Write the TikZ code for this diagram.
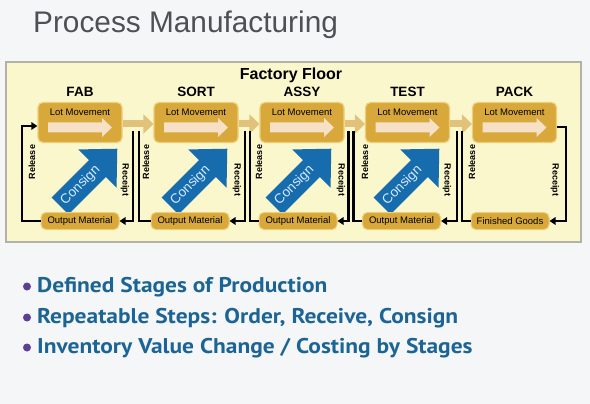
\documentclass[tikz,border=0pt]{standalone}
\usepackage{fontspec}
\setmainfont{Liberation Sans}
\newfontfamily\bulletfont[FakeStretch=1.1]{PT Sans}
\usetikzlibrary{arrows.meta, calc, positioning}

\definecolor{backfill}{RGB}{244,246,248}
\definecolor{panelfill}{RGB}{251,247,204}
\definecolor{panelline}{RGB}{178,178,168}
\definecolor{lotgold}{RGB}{216,168,58}
\definecolor{lotedge}{RGB}{238,206,118}
\definecolor{lotarrow}{RGB}{246,224,198}
\definecolor{tanlink}{RGB}{224,194,122}
\definecolor{consignblue}{RGB}{22,108,172}
\definecolor{consigntext}{RGB}{215,235,250}
\definecolor{titlegray}{RGB}{78,80,84}
\definecolor{bulletblue}{RGB}{28,100,148}
\definecolor{bulletdot}{RGB}{92,62,150}

\tikzset{
  lotbox/.style={draw=lotedge, line width=1.2pt, fill=lotgold, rounded corners=5pt,
    minimum width=84pt, minimum height=40pt, inner sep=0pt},
  outbox/.style={draw=lotedge, line width=1pt, fill=lotgold, rounded corners=5pt,
    minimum width=78pt, minimum height=17pt, inner sep=0pt, font=\fontsize{9.5}{10}\selectfont},
  stagename/.style={font=\bfseries\fontsize{13.5}{14}\selectfont, anchor=base},
  lottext/.style={font=\fontsize{9.5}{10}\selectfont, anchor=base, inner sep=0pt},
  flowline/.style={line width=2.4pt, black},
  flowarrow/.style={flowline, -{Triangle[length=6pt,width=7.5pt]}},
  sidetext/.style={font=\bfseries\fontsize{9}{10}\selectfont, inner sep=0pt},
  tanarrow/.style={line width=7pt, draw=tanlink, -{Triangle[length=10pt,width=19pt]}},
  bullettext/.style={font=\bulletfont\bfseries\fontsize{21.3}{24}\selectfont, text=bulletblue,
    anchor=base west, inner sep=0pt},
}

\begin{document}
\begin{tikzpicture}[x=1pt, y=-1pt]
  \useasboundingbox (0,0) rectangle (590,404);
  \fill[backfill] (0,0) rectangle (590,404);

  \node[anchor=base west, inner sep=0pt, text=titlegray, font=\fontsize{29.8}{32}\selectfont]
    (title) at (33,33) {Process Manufacturing};

  % factory floor panel
  \draw[draw=panelline, fill=panelfill, line width=1.3pt] (6,62) rectangle (581,242);
  \node[font=\bfseries\fontsize{16}{18}\selectfont, anchor=base, inner sep=0pt] (floor) at (291,80) {Factory Floor};

  % consign arrows (under the output boxes)
  \foreach \name/\tx in {fab/60, sort/170, assy/274, test/382} {
    \begin{scope}[shift={(\tx,206)}, rotate=45]
      \fill[consignblue] (0,-12) -- (53,-12) -- (53,-27) -- (81,0) -- (53,27) -- (53,12) -- (0,12) -- cycle;
      \node[rotate=45, text=consigntext, font=\fontsize{13.5}{14}\selectfont, inner sep=0pt]
        (\name-consign) at (29,0) {Consign};
    \end{scope}
  }

  % stages
  \foreach \name/\cx/\ox/\label/\outlabel/\rl/\rc in {
      fab/80/80/FAB/Output Material/32/125,
      sort/196/190/SORT/Output Material/146/237,
      assy/302/298/ASSY/Output Material/259/341,
      test/407.5/401.5/TEST/Output Material/365/447,
      pack/514.5/510/PACK/Finished Goods/472/555} {
    \node[lotbox] (\name) at (\cx,122.5) {};
    \node[stagename] (\name-title) at (\cx,97) {\label};
    \node[lottext] (\name-text) at (\cx,116) {Lot Movement};
    \fill[lotarrow] (\cx-32,122.5) -- (\cx+22,122.5) -- (\cx+22,118) -- (\cx+32,127.5)
      -- (\cx+22,137) -- (\cx+22,132.5) -- (\cx-32,132.5) -- cycle;
    \node[outbox] (\name-out) at (\ox,221) {\outlabel};
    \node[sidetext, rotate=90] (\name-release) at (\rl,162) {Release};
    \node[sidetext, rotate=-90] (\name-receipt) at (\rc,180) {Receipt};
  }

  % lot movement between stages
  \foreach \a/\b in {fab/sort, sort/assy, assy/test, test/pack}
    \draw[tanarrow] ($(\a.east)+(0,1.5)$) -- ($(\b.west)+(0,1.5)$);

  % receipt / release lines
  \coordinate (rcpt1) at (133,131);   \coordinate (rel1) at (139,131);
  \coordinate (rcpt2) at (245,131);   \coordinate (rel2) at (250,131);
  \coordinate (rcpt3) at (348.5,131); \coordinate (rel3) at (353.5,131);
  \coordinate (rcpt4) at (457,131);   \coordinate (rel4) at (462,131);
  \coordinate (fabloop) at (22,126);
  \coordinate (packloop) at (566,127);

  \draw[flowarrow] (fab-out.west) -| (fabloop) -- (fabloop -| fab.west);
  \foreach \i/\a/\b in {1/fab/sort, 2/sort/assy, 3/assy/test, 4/test/pack} {
    \draw[flowarrow] (rcpt\i) |- (\a-out.east);
    \draw[flowline] (rel\i) |- (\b-out.west);
  }
  \draw[flowarrow] (pack.east |- packloop) -- (packloop) |- (pack-out.east);

  % bullets
  \fill[bulletdot] (27,286.5) circle (4);
  \fill[bulletdot] (27,317.5) circle (4);
  \fill[bulletdot] (27,347.5) circle (4);
  \node[bullettext] (point1) at (37,292) {Defined Stages of Production};
  \node[bullettext] (point2) at (37,323) {Repeatable Steps: Order, Receive, Consign};
  \node[bullettext] (point3) at (37,353) {Inventory Value Change / Costing by Stages};
\end{tikzpicture}
\end{document}
